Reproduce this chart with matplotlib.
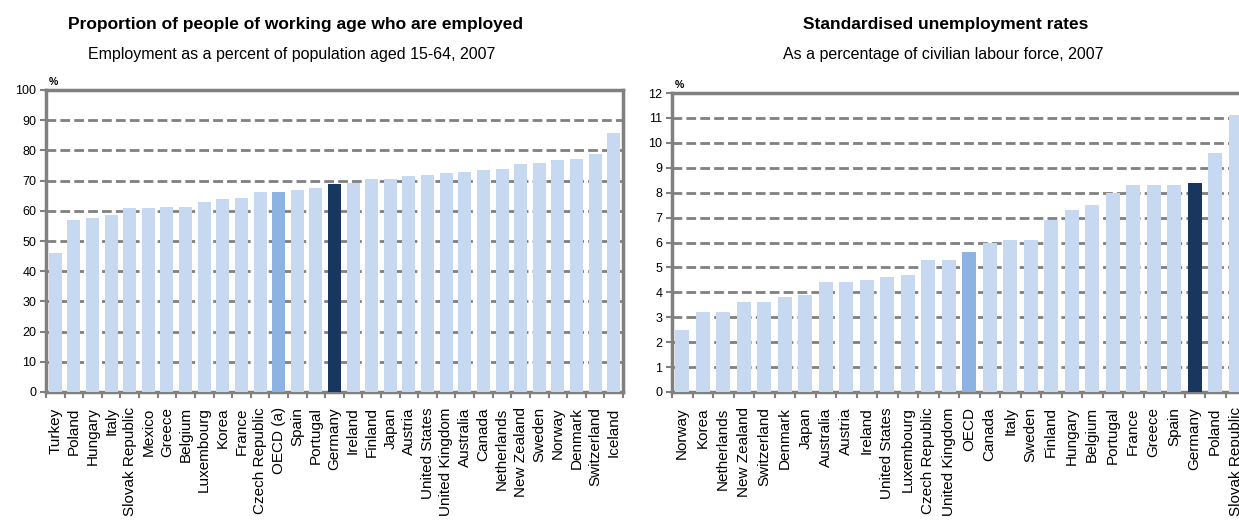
import numpy as np
import matplotlib
matplotlib.use("Agg")
import matplotlib.pyplot as plt

plt.rcParams['font.family'] = ['Liberation Sans', 'DejaVu Sans']

emp_countries = ['Turkey', 'Poland', 'Hungary', 'Italy', 'Slovak Republic', 'Mexico', 'Greece',
                 'Belgium', 'Luxembourg', 'Korea', 'France', 'Czech Republic', 'OECD (a)', 'Spain',
                 'Portugal', 'Germany', 'Ireland', 'Finland', 'Japan', 'Austria', 'United States',
                 'United Kingdom', 'Australia', 'Canada', 'Netherlands', 'New Zealand', 'Sweden',
                 'Norway', 'Denmark', 'Switzerland', 'Iceland']
emp_values = [46.0, 57.1, 57.7, 58.6, 61.0, 61.0, 61.4, 61.4, 62.9, 63.9, 64.3, 66.2, 66.2, 66.9,
              67.7, 69.0, 69.1, 70.5, 70.5, 71.5, 72.0, 72.5, 73.0, 73.5, 74.0, 75.4, 75.9,
              76.8, 77.3, 78.8, 85.6]

unemp_countries = ['Norway', 'Korea', 'Netherlands', 'New Zealand', 'Switzerland', 'Denmark', 'Japan',
                   'Australia', 'Austria', 'Ireland', 'United States', 'Luxembourg', 'Czech Republic',
                   'United Kingdom', 'OECD', 'Canada', 'Italy', 'Sweden', 'Finland', 'Hungary',
                   'Belgium', 'Portugal', 'France', 'Greece', 'Spain', 'Germany', 'Poland',
                   'Slovak Republic']
unemp_values = [2.5, 3.2, 3.2, 3.6, 3.6, 3.8, 3.9, 4.4, 4.4, 4.5, 4.6, 4.7, 5.3, 5.3, 5.6, 6.0,
                6.1, 6.1, 6.9, 7.3, 7.5, 8.0, 8.3, 8.3, 8.3, 8.4, 9.6, 11.1]

LIGHT = '#c6d9f0'
OECD_C = '#8db3e2'
GER = '#17375e'
GRAY = '#808080'


def draw(ax, names, vals, ymax, ystep):
    x = np.arange(len(names))
    cols = []
    for n in names:
        if n.startswith('OECD'):
            cols.append(OECD_C)
        elif n == 'Germany':
            cols.append(GER)
        else:
            cols.append(LIGHT)
    ax.bar(x, vals, width=0.7, color=cols, zorder=3)
    ax.set_xlim(-0.5, len(names) - 0.5)
    ax.set_ylim(0, ymax)
    ax.set_yticks(np.arange(0, ymax + ystep / 2, ystep))
    ax.yaxis.grid(True, linestyle=(0, (3.5, 1.5)), color=GRAY, linewidth=2, zorder=0)
    ax.set_axisbelow(True)
    ax.set_xticks(x)
    ax.set_xticklabels(names, rotation=90, fontsize=11)
    ax.set_xticks(np.arange(-0.5, len(names)), minor=True)
    ax.tick_params(axis='x', which='major', length=0, pad=11)
    ax.tick_params(axis='x', which='minor', length=4, width=1.5, color=GRAY, direction='out')
    ax.tick_params(axis='y', length=4, width=1.5, color=GRAY, labelsize=9, pad=3)
    for s in ax.spines.values():
        s.set_color(GRAY)
        s.set_linewidth(2.5)
    ax.text(0.005, 1.01, '%', transform=ax.transAxes, fontsize=7.5, fontweight='bold',
            ha='left', va='bottom')


fig = plt.figure(figsize=(12.39, 5.23), dpi=100)
W, H = 1239, 523

ax1 = fig.add_axes([46 / W, 1 - 392 / H, (623 - 46) / W, (392 - 90) / H])
draw(ax1, emp_countries, emp_values, 100, 10)

ax2 = fig.add_axes([672 / W, 1 - 392 / H, (1246 - 672) / W, (392 - 93) / H])
draw(ax2, unemp_countries, unemp_values, 12, 1)

fig.text(296 / W, 1 - 24 / H, 'Proportion of people of working age who are employed',
         ha='center', va='center', fontsize=12.5, fontweight='bold')
fig.text(292 / W, 1 - 55 / H, 'Employment as a percent of population aged 15-64, 2007',
         ha='center', va='center', fontsize=11.5)
fig.text(946 / W, 1 - 24 / H, 'Standardised unemployment rates',
         ha='center', va='center', fontsize=12.5, fontweight='bold')
fig.text(943 / W, 1 - 55 / H, 'As a percentage of civilian labour force, 2007',
         ha='center', va='center', fontsize=11.5)

fig.savefig('out.png', dpi=100)
